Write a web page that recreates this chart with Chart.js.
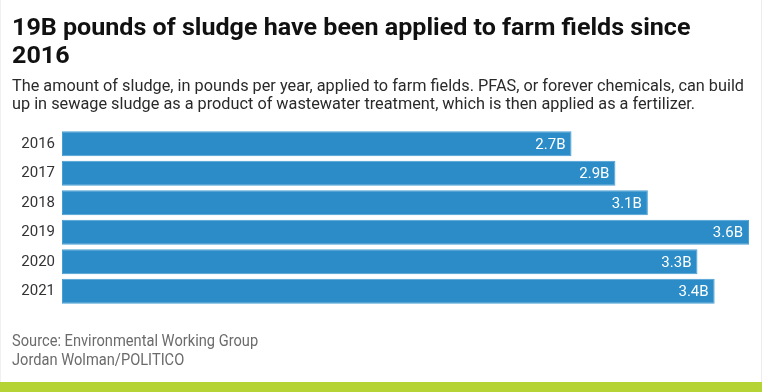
<!DOCTYPE html>
<html>
<head>
<meta charset="utf-8">
<script src="https://cdn.jsdelivr.net/npm/chart.js@4/dist/chart.umd.min.js"></script>
<style>
  html, body { margin: 0; padding: 0; background: #fff; }
  #wrap { position: relative; width: 762px; height: 392px; overflow: hidden; background: #fff; }
  .ln { position: absolute; left: 12px; white-space: nowrap; transform-origin: 0 0; line-height: 1; font-family: Roboto, "Liberation Sans", sans-serif; }
  .t { font-size: 24px; font-weight: 700; color: #111; }
  .s { font-size: 16.5px; color: #2a2a2a; }
  .src { font-size: 16.5px; color: #6b6b6b; }
  #green { position: absolute; left: 0; top: 382px; width: 762px; height: 10px; background: #b5d334; }
  #edge { position: absolute; left: 0; top: 0; width: 760px; height: 382px; border-left: 1px solid #f0f0f0; border-right: 1px solid #ececec; pointer-events: none; }
  canvas { position: absolute; left: 0; top: 0; }
</style>
</head>
<body>
<div id="wrap">
  <canvas id="c" width="762" height="392"></canvas>
  <div class="ln t" id="t1" style="top:14.8px">19B pounds of sludge have been applied to farm fields since</div>
  <div class="ln t" id="t2" style="top:42.8px">2016</div>
  <div class="ln s" id="s1" style="top:78.1px">The amount of sludge, in pounds per year, applied to farm fields. PFAS, or forever chemicals, can build</div>
  <div class="ln s" id="s2" style="top:96.1px">up in sewage sludge as a product of wastewater treatment, which is then applied as a fertilizer.</div>
  <div class="ln src" id="r1" style="top:333.1px">Source: Environmental Working Group</div>
  <div class="ln src" id="r2" style="top:352.1px">Jordan Wolman/POLITICO</div>
  <div id="edge"></div>
  <div id="green"></div>
</div>
<script>
// ---- data ----
const years = ["2016", "2017", "2018", "2019", "2020", "2021"];
const sludgeBillionLbs = [2.67, 2.90, 3.07, 3.60, 3.33, 3.42];
const valueLabels = ["2.7B", "2.9B", "3.1B", "3.6B", "3.3B", "3.4B"];

// fit text lines horizontally to reference widths (offsetWidth ignores transforms)
function fit(firstId, otherIds, target) {
  const el = document.getElementById(firstId);
  const w = el.offsetWidth;
  const k = target / w;
  [firstId].concat(otherIds).forEach(id => {
    document.getElementById(id).style.transform = 'scaleX(' + k + ')';
  });
}
function fitAll() {
  fit('t1', ['t2'], 678);
  fit('s1', ['s2'], 732);
  fit('r1', ['r2'], 246);
}
fitAll();
if (document.fonts && document.fonts.ready) document.fonts.ready.then(fitAll);

const barLabels = {
  id: 'barLabels',
  afterDatasetsDraw(chart) {
    const ctx = chart.ctx;
    const meta = chart.getDatasetMeta(0);
    ctx.save();
    ctx.font = '15px Roboto, "Liberation Sans", sans-serif';
    ctx.fillStyle = '#ffffff';
    ctx.textAlign = 'right';
    ctx.textBaseline = 'middle';
    meta.data.forEach((el, i) => {
      ctx.fillText(valueLabels[i], el.x - 6, el.y + 1);
    });
    ctx.restore();
  }
};

new Chart(document.getElementById('c'), {
  type: 'bar',
  data: {
    labels: years,
    datasets: [{
      data: sludgeBillionLbs,
      backgroundColor: '#2b8cc7',
      borderColor: '#4a9fd4',
      borderWidth: 1,
      borderSkipped: false,
      barPercentage: 0.847,
      categoryPercentage: 1.0
    }]
  },
  options: {
    indexAxis: 'y',
    responsive: false,
    devicePixelRatio: 1,
    animation: false,
    events: [],
    layout: { padding: { top: 129, bottom: 86, left: 0, right: 13 } },
    plugins: { legend: { display: false }, tooltip: { enabled: false }, title: { display: false } },
    scales: {
      x: { display: false, min: 0, max: 3.6 },
      y: {
        grid: { display: false, drawTicks: false },
        border: { display: false },
        ticks: {
          padding: 7,
          color: '#333',
          font: { family: 'Roboto, "Liberation Sans", sans-serif', size: 15 }
        },
        afterFit(scale) { scale.width = 62; }
      }
    }
  },
  plugins: [barLabels]
});
</script>
</body>
</html>
